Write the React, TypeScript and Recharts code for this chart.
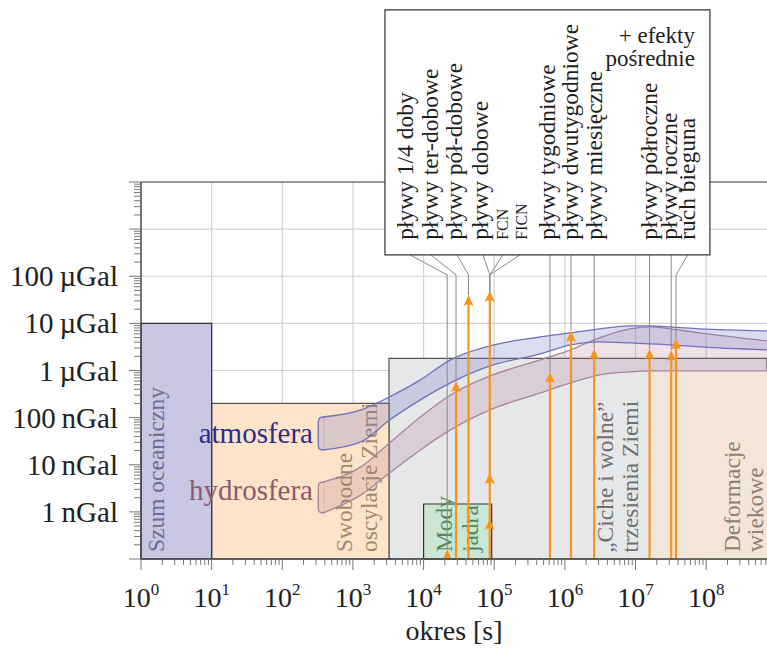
import React from 'react';
import { ComposedChart, XAxis, YAxis, Area, ReferenceArea, ReferenceLine, ReferenceDot } from 'recharts';

const FONT = '"Liberation Serif", "Times New Roman", serif';
const ORANGE = '#f7941d';
const CONNECTOR = '#8a8a8a';

const X_MIN = 1;
const X_MAX = 7.26e8;
const Y_MIN = 0.1;
const Y_MAX = 1e7;

// axis decades and tick labels
const xDecades = [0, 1, 2, 3, 4, 5, 6, 7, 8];
const yDecades = [-1, 0, 1, 2, 3, 4, 5, 6, 7];
const yLabelValues = [1, 10, 100, 1000, 10000, 100000];
const yLabelTexts = ['1\u2009nGal', '10\u2009nGal', '100\u2009nGal', '1\u2009µGal', '10\u2009µGal', '100\u2009µGal'];
const minorMultipliers = [1, 2, 3, 4, 5, 6, 7, 8, 9];

// signal bands (period in s, amplitude in nGal)
const bandPeriods = [380, 1300, 3300, 9000, 24000, 87000, 450000, 1.2e6, 3.1e6, 8.3e6, 1.6e7, 3.1e7, 8e7, 7.26e8];
const atmHigh = [103, 146, 275, 631, 1680, 3330, 5160, 6280, 7640, 8850, 8850, 8430, 7640, 6930];
const atmLow = [20.6, 30.5, 89, 238, 546, 1250, 2250, 3500, 4050, 3850, 3670, 3500, 3170, 2740];
const hydHigh = [4.3, 9.0, 29, 103, 303, 767, 1680, 2740, 4920, 7640, 8430, 7640, 6280, 4250];
const hydLow = [0.95, 2.3, 6.7, 20.6, 55, 146, 334, 546, 807, 934, 980, 980, 980, 980];

// phenomena regions
const regionNames = ['trzesienia', 'swobodne', 'szum', 'deformacje', 'mody'];
const regionX1 = [3240, 10, 1, 1.6e7, 1e4];
const regionX2 = [7.26e8, 3240, 10, 7.26e8, 9.2e4];
const regionY1 = [0.1, 0.1, 0.1, 0.1, 0.1];
const regionY2 = [1800, 200, 1e4, 980, 1.47];
const regionFill = ['#e6e7e9', '#fde3c7', '#c8c6e2', '#f3e6d9', '#cbe6d2'];
const regionStroke = ['#555', '#555', '#333', 'none', '#333'];

// region captions (rotated)
const captionTexts = ['Szum oceaniczny', 'Swobodne', 'oscylacje Ziemi', 'Mody', 'jadra', '„Ciche i wolne”', 'trzesienia Ziemi', 'Deformacje', 'wiekowe'];
const captionX = [2.12, 970, 2190, 25200, 58900, 4.8e6, 1.08e7, 3.0e8, 6.4e8];
const captionY = [0.14, 0.14, 0.14, 0.14, 0.14, 0.135, 0.135, 0.14, 0.14];
const captionColor = ['#6c6a96', '#a08a6c', '#a08a6c', '#4e8a5e', '#4e8a5e', '#707070', '#707070', '#8a8076', '#8a8076'];

// tides and other periodic signals
const tideLabels = ['pływy 1/4 doby', 'pływy ter-dobowe', 'pływy pół-dobowe', 'pływy dobowe', 'FCN', 'FICN', 'pływy tygodniowe', 'pływy dwutygodniowe', 'pływy miesięczne', 'pływy półroczne', 'pływy roczne', 'ruch bieguna'];
const tidePeriods = [21600, 28800, 43200, 86400, 86400, 86400, 615000, 1.22e6, 2.6e6, 1.58e7, 3.2e7, 3.74e7];
const tideAmplitudes = [0.16, 600, 40000, 49000, 6.7, 0.71, 930, 6900, 2900, 2900, 2700, 4700];
const connectorEnds = [6400, 12700, 29700, 69300, 133000, 232000, 615000, 1.22e6, 2.6e6, 1.58e7, 3.2e7, 5.5e7];
const legendTextX = [7080, 16000, 35000, 81600, 157000, 291000, 724000, 1.53e6, 3.35e6, 2.01e7, 3.86e7, 6.94e7];
const legendTextSize = [23.5, 23.5, 23.5, 23.5, 16, 16, 23.5, 23.5, 23.5, 23.5, 23.5, 23.5];

const CONNECTOR_ELBOW = 1.07e5;
const LEGEND_TEXT_Y = 5.93e5;
const BOX_X1 = 2840;
const BOX_X2 = 1.13e8;
const BOX_Y1 = 2.84e5;
const BOX_Y2 = 4.5e10;
const noteTexts = ['+ efekty', 'pośrednie'];
const noteX = [6.94e7, 6.94e7];
const noteY = [9.0e9, 2.9e9];

const bandLabelTexts = ['atmosfera', 'hydrosfera'];
const bandLabelX = [272, 272];
const bandLabelY = [29, 1.79];
const bandLabelColor = ['#2c2c8c', '#8c5a72'];

// derived tables
const bandData = bandPeriods.map((x, i) => ({ x, atm: [atmLow[i], atmHigh[i]], hyd: [hydLow[i], hydHigh[i]] }));
const xTicks = xDecades.flatMap((d) => minorMultipliers.map((m) => m * Math.pow(10, d))).filter((v) => v <= X_MAX);
const yTicks = yDecades.flatMap((d) => minorMultipliers.map((m) => m * Math.pow(10, d))).filter((v) => v <= Y_MAX * 1.0001);
const shaftPeriods = Array.from(new Set(tidePeriods));
const shaftTops = shaftPeriods.map((p) => Math.max(...tidePeriods.map((q, i) => (q === p ? tideAmplitudes[i] : 0))));

const ATM_STROKE = '#7070c0';
const HYD_STROKE = '#a8849a';

const isMajor = (v: number) => {
  const lg = Math.log10(v);
  return Math.abs(lg - Math.round(lg)) < 1e-6;
};

const XTick = (p: any) => {
  const { x, y, payload } = p;
  const v = payload.value;
  const major = isMajor(v);
  const exp = Math.round(Math.log10(v));
  return (
    <g>
      <line x1={x} x2={x} y1={y} y2={y + (major ? 11 : 6)} stroke="#777" strokeWidth={1} />
      {major && (
        <text x={x} y={y + 48} textAnchor="middle" fontFamily={FONT} fontSize={28} fill="#222">
          <tspan>10</tspan>
          <tspan dy={-12} fontSize={17}>{exp}</tspan>
        </text>
      )}
    </g>
  );
};

const YTick = (p: any) => {
  const { x, y, payload } = p;
  const v = payload.value;
  const major = isMajor(v);
  const idx = yLabelValues.findIndex((l) => Math.abs(l - v) < 1e-6 * v);
  return (
    <g>
      <line x1={x - (major ? 12 : 7)} x2={x} y1={y} y2={y} stroke="#777" strokeWidth={1} />
      {idx >= 0 && (
        <text x={x - 23} y={y + 10} textAnchor="end" fontFamily={FONT} fontSize={29} fill="#222">
          {yLabelTexts[idx]}
        </text>
      )}
    </g>
  );
};

const rotText = (text: string, color: string, size: number) => (p: any) => (
  <text transform={`translate(${p.cx},${p.cy}) rotate(-90)`} fontFamily={FONT} fontSize={size} fill={color}>
    {text}
  </text>
);

const plainText = (text: string, color: string, size: number) => (p: any) => (
  <text x={p.cx} y={p.cy} textAnchor="end" fontFamily={FONT} fontSize={size} fill={color}>
    {text}
  </text>
);

const arrowHead = (p: any) => {
  const { cx, cy } = p;
  return <path d={`M${cx},${cy} L${cx + 5},${cy + 11} Q${cx},${cy + 7.5} ${cx - 5},${cy + 11} Z`} fill={ORANGE} />;
};

const arrowShaft = (p: any) => {
  const { x1, y1, x2, y2 } = p;
  const top = Math.min(y1, y2);
  const bottom = Math.max(y1, y2);
  return <line x1={x1} x2={x2} y1={bottom} y2={top + 6} stroke={ORANGE} strokeWidth={2.2} />;
};

const bandCap = (stroke: string, fill: string, opacity: number) => (p: any) => {
  const { x1, y1, y2 } = p;
  const top = Math.min(y1, y2);
  const bottom = Math.max(y1, y2);
  const d = `M${x1 + 1},${top} C${x1 - 5},${top} ${x1 - 5},${top + 2} ${x1 - 5},${top + 7} L${x1 - 5},${bottom - 7} C${x1 - 5},${bottom - 2} ${x1 - 5},${bottom} ${x1 + 1},${bottom}`;
  return (
    <g>
      <path d={d + ' Z'} fill={fill} fillOpacity={opacity} stroke="none" />
      <path d={d} fill="none" stroke={stroke} strokeWidth={1.3} />
    </g>
  );
};

export default function App() {
  let z = 1;
  return (
    <div style={{ position: 'absolute', left: 0, top: 0, width: 767, height: 648, background: '#fff' }}>
      <ComposedChart width={767} height={648} data={bandData} margin={{ top: 182, right: 0, bottom: 0, left: 0 }}>
        <XAxis
          dataKey="x"
          type="number"
          scale="log"
          domain={[X_MIN, X_MAX]}
          allowDataOverflow
          ticks={xTicks}
          interval={0}
          tick={<XTick />}
          tickLine={false}
          tickSize={0}
          tickMargin={0}
          axisLine={{ stroke: '#444', strokeWidth: 1.5 }}
          height={89}
          label={{ value: 'okres [s]', position: 'insideBottom', offset: 8, fontSize: 28, fontFamily: FONT, fill: '#222' }}
        />
        <YAxis
          type="number"
          scale="log"
          domain={[Y_MIN, Y_MAX]}
          allowDataOverflow
          ticks={yTicks}
          interval={0}
          tick={<YTick />}
          tickLine={false}
          tickSize={0}
          tickMargin={0}
          axisLine={{ stroke: '#444', strokeWidth: 1.5 }}
          width={141}
        />

        {xDecades.slice(1).map((d) => (
          <ReferenceLine key={`gx${d}`} x={Math.pow(10, d)} stroke="#d2d2d2" strokeWidth={1.2} zIndex={z++} />
        ))}
        {yDecades.slice(1, -1).map((d) => (
          <ReferenceLine key={`gy${d}`} y={Math.pow(10, d)} stroke="#d2d2d2" strokeWidth={1.2} zIndex={z++} />
        ))}
        <ReferenceLine y={Y_MAX} stroke="#333" strokeWidth={1.2} zIndex={z++} />

        {regionNames.map((n, i) => (
          <ReferenceArea
            key={n}
            x1={regionX1[i]}
            x2={regionX2[i]}
            y1={regionY1[i]}
            y2={regionY2[i]}
            fill={regionFill[i]}
            fillOpacity={1}
            stroke={regionStroke[i]}
            strokeWidth={1.2}
            zIndex={z++}
          />
        ))}

        {captionTexts.map((t, i) => (
          <ReferenceDot key={t} x={captionX[i]} y={captionY[i]} ifOverflow="visible" shape={rotText(t, captionColor[i], 23.5)} zIndex={z++} />
        ))}

        <Area dataKey="hyd" type="monotone" stroke={HYD_STROKE} strokeWidth={1.3} fill="rgb(170,110,140)" fillOpacity={0.2} isAnimationActive={false} dot={false} activeDot={false} zIndex={z++} />
        <Area dataKey="atm" type="monotone" stroke={ATM_STROKE} strokeWidth={1.3} fill="rgb(115,115,200)" fillOpacity={0.25} isAnimationActive={false} dot={false} activeDot={false} zIndex={z++} />
        <ReferenceLine segment={[{ x: bandPeriods[0], y: hydLow[0] }, { x: bandPeriods[0], y: hydHigh[0] }]} shape={bandCap(HYD_STROKE, 'rgb(170,110,140)', 0.2)} zIndex={z++} />
        <ReferenceLine segment={[{ x: bandPeriods[0], y: atmLow[0] }, { x: bandPeriods[0], y: atmHigh[0] }]} shape={bandCap(ATM_STROKE, 'rgb(115,115,200)', 0.25)} zIndex={z++} />

        {tidePeriods.map((p, i) => (
          <ReferenceLine key={`cv${i}`} segment={[{ x: p, y: tideAmplitudes[i] }, { x: p, y: CONNECTOR_ELBOW }]} stroke={CONNECTOR} strokeWidth={1} zIndex={z++} />
        ))}
        {tidePeriods.map((p, i) => (
          <ReferenceLine key={`cd${i}`} segment={[{ x: p, y: CONNECTOR_ELBOW }, { x: connectorEnds[i], y: BOX_Y1 }]} stroke={CONNECTOR} strokeWidth={1} zIndex={z++} />
        ))}

        {shaftPeriods.map((p, i) => (
          <ReferenceLine key={`s${i}`} segment={[{ x: p, y: Y_MIN }, { x: p, y: shaftTops[i] }]} shape={arrowShaft} zIndex={z++} />
        ))}
        {tidePeriods.map((p, i) => (
          <ReferenceDot key={`h${i}`} x={p} y={tideAmplitudes[i]} ifOverflow="visible" shape={arrowHead} zIndex={z++} />
        ))}

        <ReferenceArea x1={BOX_X1} x2={BOX_X2} y1={BOX_Y1} y2={BOX_Y2} ifOverflow="visible" fill="#fff" fillOpacity={1} stroke="#333" strokeWidth={1.2} zIndex={z++} />
        {tideLabels.map((t, i) => (
          <ReferenceDot key={`l${i}`} x={legendTextX[i]} y={LEGEND_TEXT_Y} ifOverflow="visible" shape={rotText(t, '#1e1e1e', legendTextSize[i])} zIndex={z++} />
        ))}
        {noteTexts.map((t, i) => (
          <ReferenceDot key={`n${i}`} x={noteX[i]} y={noteY[i]} ifOverflow="visible" shape={plainText(t, '#1e1e1e', 23)} zIndex={z++} />
        ))}
        {bandLabelTexts.map((t, i) => (
          <ReferenceDot key={`b${i}`} x={bandLabelX[i]} y={bandLabelY[i]} ifOverflow="visible" shape={plainText(t, bandLabelColor[i], 29)} zIndex={z++} />
        ))}
      </ComposedChart>
    </div>
  );
}
